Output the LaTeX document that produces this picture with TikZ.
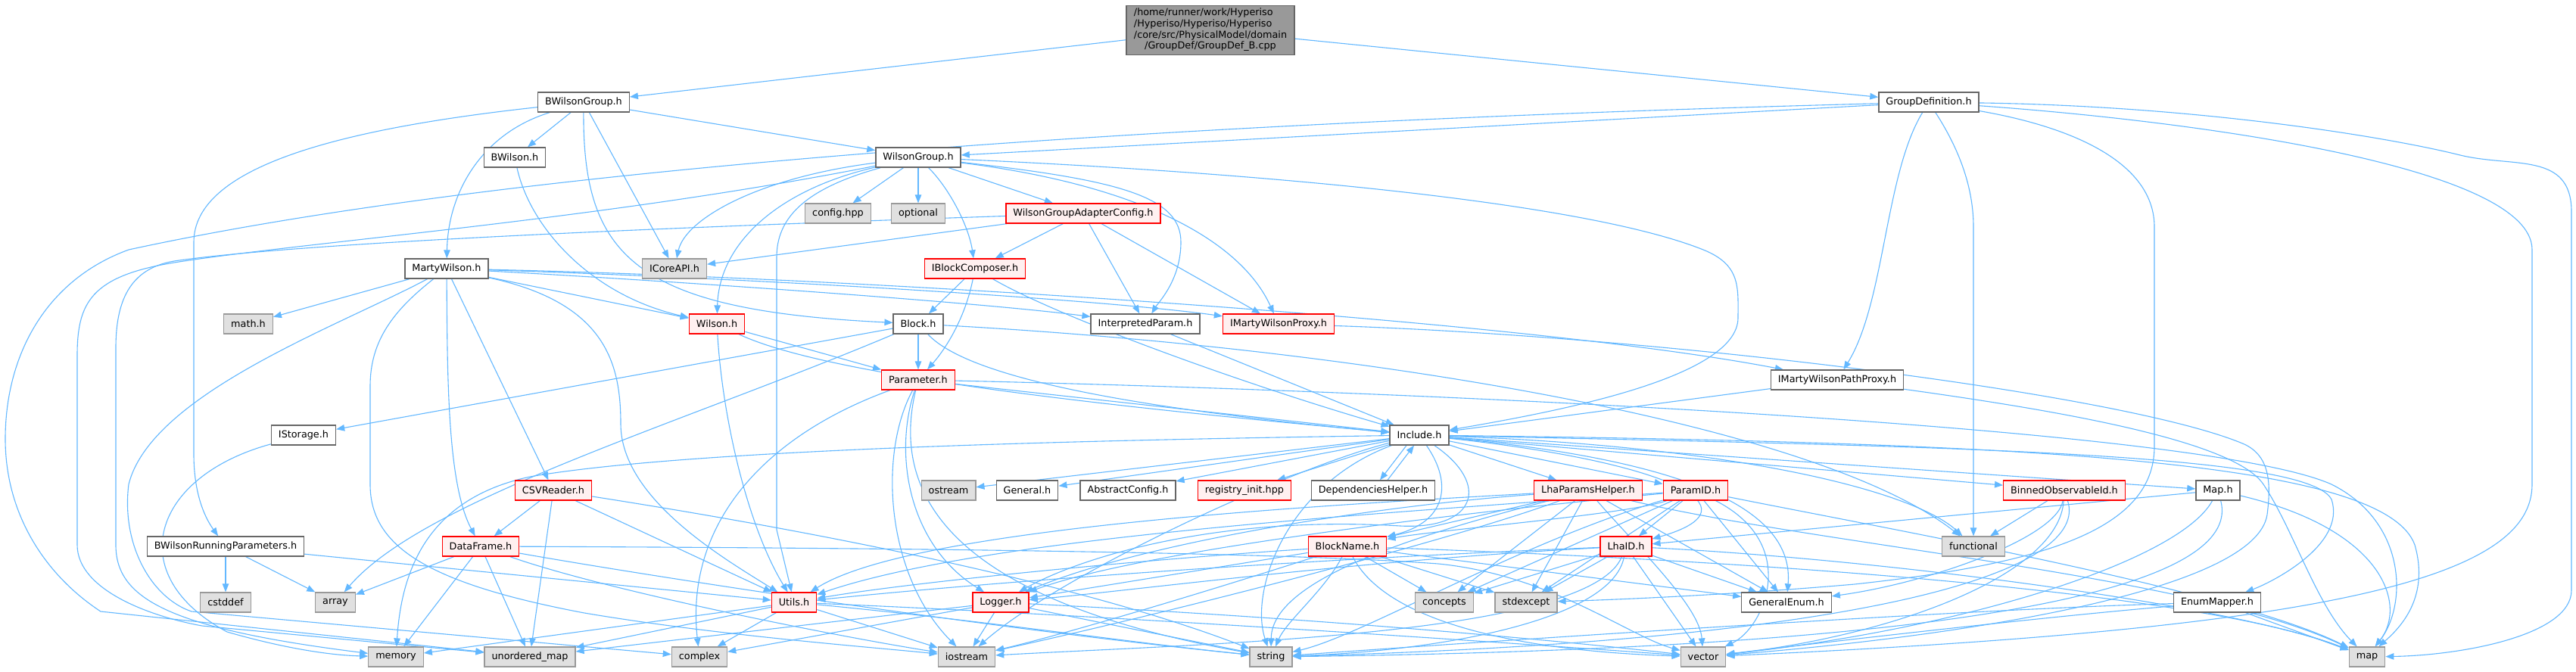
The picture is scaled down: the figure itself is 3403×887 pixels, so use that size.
\documentclass[tikz,border=0pt]{standalone}
\usepackage{fontspec}
\setmainfont{DejaVu Sans}
\usetikzlibrary{arrows.meta,backgrounds}
\definecolor{ec}{HTML}{63B8FF}
\definecolor{gfill}{HTML}{E0E0E0}
\definecolor{rfill}{HTML}{FFF0F0}
\definecolor{mfill}{HTML}{999999}
\definecolor{wbord}{HTML}{666666}
\definecolor{gbord}{HTML}{999999}
\newcommand{\nf}{\fontsize{12.8pt}{14.7pt}\selectfont}
\tikzset{
  nb/.style={draw=wbord, fill=white, line width=1.3pt, minimum height=26pt, inner xsep=9.5pt, inner ysep=0pt, font=\nf},
  wbox/.style={nb},
  gbox/.style={nb, draw=gbord, fill=gfill},
  rbox/.style={nb, draw=red, fill=rfill},
  mbox/.style={nb, fill=mfill, draw=wbord, inner ysep=3pt, inner xsep=10pt},
  e/.style={draw=ec, line width=1.1pt, -{Triangle[length=11pt,width=8.5pt]}},
}
\begin{document}
\begin{tikzpicture}[x=1pt,y=-1pt]
\path[use as bounding box] (0,0) rectangle (3403,887);
% ---------- nodes ----------
\node[mbox] (main) at (1599,40) {\begin{tabular}{@{}l@{}}/home/runner/work/Hyperiso\\/Hyperiso/Hyperiso/Hyperiso\\/core/src/PhysicalModel/domain\\\multicolumn{1}{@{}c@{}}{/GroupDef/GroupDef\_B.cpp}\end{tabular}};
\node[wbox] (bwg) at (771,135) {BWilsonGroup.h};
\node[wbox] (gd) at (2548,135) {GroupDefinition.h};
\node[wbox] (bw) at (680,208) {BWilson.h};
\node[wbox] (wg) at (1213,208) {WilsonGroup.h};
\node[gbox] (cfg) at (1107,282) {config.hpp};
\node[gbox] (opt) at (1213,282) {optional};
\node[rbox] (wgac) at (1431,282) {WilsonGroupAdapterConfig.h};
\node[wbox] (mw) at (590,355) {MartyWilson.h};
\node[gbox] (icore) at (891,355) {ICoreAPI.h};
\node[rbox] (ibc) at (1288,355) {IBlockComposer.h};
\node[gbox] (mathh) at (328,428) {math.h};
\node[rbox] (wil) at (947,428) {Wilson.h};
\node[wbox] (blk) at (1213,428) {Block.h};
\node[wbox] (ip) at (1513,428) {InterpretedParam.h};
\node[rbox] (imwp) at (1689,428) {IMartyWilsonProxy.h};
\node[rbox] (par) at (1213,502) {Parameter.h};
\node[wbox] (imwpp) at (2427,502) {IMartyWilsonPathProxy.h};
\node[wbox] (ist) at (401,575) {IStorage.h};
\node[wbox] (inc) at (1875,575) {Include.h};
\node[rbox] (csv) at (731,648) {CSVReader.h};
\node[gbox] (ostr) at (1253,648) {ostream};
\node[wbox] (gen) at (1357,648) {General.h};
\node[wbox] (absc) at (1490,648) {AbstractConfig.h};
\node[rbox] (reg) at (1644,648) {registry\_init.hpp};
\node[wbox] (dep) at (1814,648) {DependenciesHelper.h};
\node[rbox] (lph) at (2098,648) {LhaParamsHelper.h};
\node[rbox] (pid) at (2240,648) {ParamID.h};
\node[rbox] (bno) at (2727,648) {BinnedObservableId.h};
\node[wbox] (maph) at (2930,648) {Map.h};
\node[wbox] (bwrp) at (298,722) {BWilsonRunningParameters.h};
\node[rbox] (df) at (635,722) {DataFrame.h};
\node[rbox] (bn) at (1780,722) {BlockName.h};
\node[rbox] (lid) at (2148,722) {LhaID.h};
\node[gbox] (func) at (2607,722) {functional};
\node[gbox] (cstd) at (298,796) {cstddef};
\node[gbox] (arr) at (443,796) {array};
\node[rbox] (utl) at (1049,796) {Utils.h};
\node[rbox] (lgr) at (1322,796) {Logger.h};
\node[gbox] (conc) at (1908,796) {concepts};
\node[gbox] (stde) at (2016,796) {stdexcept};
\node[wbox] (genum) at (2360,796) {GeneralEnum.h};
\node[wbox] (enm) at (2929,796) {EnumMapper.h};
\node[gbox] (mem) at (523,868) {memory};
\node[gbox] (um) at (700,868) {unordered\_map};
\node[gbox] (cplx) at (924,868) {complex};
\node[gbox] (ios) at (1277,868) {iostream};
\node[gbox] (str) at (1679,868) {string};
\node[gbox] (vec) at (2250,868) {vector};
\node[gbox] (mapx) at (3127,868) {map};
% ---------- edges ----------
\begin{scope}[on background layer]
\fill[white] (0,0) rectangle (3403,887);
% main
\draw[e] (main) -- (bwg);
\draw[e] (main) -- (gd);
% BWilsonGroup
\draw[e] (bwg) -- (bw);
\draw[e] (bwg) .. controls (640,175) and (592,250) .. (mw);
\draw[e] (bwg) -- (icore);
\draw[e] (bwg) -- (wg);
\draw[e] (bwg) .. controls (450,170) and (256,220) .. (256,320) -- (256,600) .. controls (256,660) and (275,690) .. (bwrp);
\draw[e] (bwg) .. controls (770,340) and (840,410) .. (blk);
% GroupDefinition
\draw[e] (gd) -- (wg);
\draw[e] (gd) .. controls (1600,160) and (700,215) .. (170,330) .. controls (60,370) and (7,470) .. (7,580) .. controls (7,680) and (60,760) .. (133,808) -- (um);
\draw[e] (gd) .. controls (2490,230) and (2490,400) .. (imwpp);
\draw[e] (gd) .. controls (2590,200) and (2607,250) .. (2607,300) -- (func);
\draw[e] (gd) .. controls (2750,170) and (2846,220) .. (2846,300) -- (2846,590) .. controls (2846,700) and (2700,745) .. (2450,772) .. controls (2300,785) and (2150,792) .. (stde);
\draw[e] (gd) .. controls (2900,160) and (3345,220) .. (3345,330) -- (3345,640) .. controls (3345,760) and (3100,830) .. (vec);
\draw[e] (gd) .. controls (2900,140) and (3150,180) .. (3250,205) .. controls (3320,222) and (3397,200) .. (3397,280) -- (3397,780) .. controls (3397,840) and (3250,866) .. (mapx);
% BWilson
\draw[e] (bw) .. controls (700,300) and (780,390) .. (wil);
% WilsonGroup
\draw[e] (wg) -- (cfg);
\draw[e] (wg) -- (opt);
\draw[e] (wg) -- (wgac);
\draw[e] (wg) .. controls (1255,250) and (1280,300) .. (ibc);
\draw[e] (wg) .. controls (1000,235) and (905,290) .. (icore);
\draw[e] (wg) .. controls (1030,250) and (950,320) .. (wil);
\draw[e] (wg) .. controls (1060,250) and (1026,290) .. (1026,340) -- (1026,700) -- (utl);
\draw[e] (wg) .. controls (800,290) and (400,320) .. (230,347) .. controls (120,365) and (102,400) .. (102,470) -- (102,720) .. controls (102,780) and (200,815) .. (267,827) -- (um);
\draw[e] (wg) .. controls (1480,238) and (1560,260) .. (1560,320) .. controls (1560,370) and (1530,400) .. (ip);
\draw[e] (wg) .. controls (1510,245) and (1640,320) .. (imwp);
\draw[e] (wg) .. controls (1700,230) and (2100,270) .. (2250,330) .. controls (2300,350) and (2296,380) .. (2296,420) .. controls (2296,500) and (2050,545) .. (inc);
% WilsonGroupAdapterConfig
\draw[e] (wgac) -- (icore);
\draw[e] (wgac) -- (ibc);
\draw[e] (wgac) -- (ip);
\draw[e] (wgac) -- (imwp);
\draw[e] (wgac) .. controls (900,300) and (400,320) .. (230,345) .. controls (170,355) and (153,400) .. (153,460) -- (153,720) .. controls (153,790) and (220,830) .. (mem);
% MartyWilson
\draw[e] (mw) -- (mathh);
\draw[e] (mw) -- (wil);
\draw[e] (mw) .. controls (900,372) and (1300,400) .. (ip);
\draw[e] (mw) .. controls (1000,368) and (1450,395) .. (imwp);
\draw[e] (mw) .. controls (1100,366) and (2000,420) .. (imwpp);
\draw[e] (mw) -- (csv);
\draw[e] (mw) .. controls (591,500) and (591,640) .. (df);
\draw[e] (mw) .. controls (800,400) and (820,480) .. (820,560) .. controls (820,660) and (960,740) .. (utl);
\draw[e] (mw) .. controls (450,430) and (200,520) .. (170,640) .. controls (160,720) and (200,790) .. (253,808) -- (cplx);
\draw[e] (mw) .. controls (520,410) and (489,450) .. (489,510) -- (489,640) .. controls (489,720) and (560,770) .. (772,810) .. controls (950,840) and (1150,855) .. (ios);
% IBlockComposer
\draw[e] (ibc) -- (blk);
\draw[e] (ibc) .. controls (1275,420) and (1250,460) .. (par);
\draw[e] (ibc) .. controls (1400,420) and (1650,510) .. (inc);
% Wilson
\draw[e] (wil) -- (par);
\draw[e] (wil) .. controls (955,560) and (990,700) .. (utl);
\draw[e] (wil) .. controls (1100,500) and (1500,540) .. (inc);
% Block
\draw[e] (blk) -- (par);
\draw[e] (blk) -- (ist);
\draw[e] (blk) .. controls (900,560) and (560,660) .. (arr);
\draw[e] (blk) .. controls (1280,500) and (1500,540) .. (inc);
\draw[e] (blk) .. controls (1800,460) and (2400,560) .. (func);
% InterpretedParam
\draw[e] (ip) -- (inc);
% IMartyWilsonProxy
\draw[e] (imwp) .. controls (2200,445) and (2800,520) .. (2960,585) .. controls (3000,600) and (3000,640) .. (2995,680) .. controls (2980,780) and (2600,840) .. (vec);
% IMartyWilsonPathProxy
\draw[e] (imwpp) -- (inc);
\draw[e] (imwpp) .. controls (2700,540) and (2950,580) .. (2990,640) .. controls (3030,700) and (3060,800) .. (mapx);
% Parameter
\draw[e] (par) -- (inc);
\draw[e] (par) .. controls (1800,515) and (2900,560) .. (3080,640) .. controls (3180,690) and (3180,800) .. (mapx);
\draw[e] (par) .. controls (1180,600) and (1200,720) .. (lgr);
\draw[e] (par) .. controls (1160,600) and (1170,760) .. (ios);
\draw[e] (par) .. controls (1170,680) and (1300,800) .. (str);
\draw[e] (par) .. controls (1000,580) and (905,700) .. (cplx);
% IStorage
\draw[e] (ist) .. controls (200,630) and (160,760) .. (300,835) .. controls (380,858) and (440,866) .. (mem);
% Include
\draw[e] (inc) -- (ostr);
\draw[e] (inc) -- (gen);
\draw[e] (inc) -- (absc);
\draw[e] (inc) -- (reg);
\draw[e] ([xshift=-17pt]inc.south) -- ([xshift=9pt]dep.north);
\draw[e] ([xshift=19pt]dep.north) -- ([xshift=-7pt]inc.south);
\draw[e] (inc) -- (lph);
\draw[e] (inc) -- (pid);
\draw[e] (inc) .. controls (1920,640) and (1910,690) .. (bn);
\draw[e] (inc) .. controls (1970,640) and (1950,700) .. (1850,695) .. controls (1600,680) and (1420,740) .. (lgr);
\draw[e] (inc) .. controls (1400,582) and (900,595) .. (700,630) .. controls (560,660) and (530,760) .. (mem);
\draw[e] (inc) .. controls (1700,620) and (1400,760) .. (ios);
\draw[e] (inc) .. controls (1700,640) and (1650,780) .. (str);
\draw[e] (inc) .. controls (2200,610) and (2330,670) .. (lid);
\draw[e] (inc) .. controls (2250,610) and (2370,680) .. (genum);
\draw[e] (inc) .. controls (2300,590) and (2530,650) .. (func);
\draw[e] (inc) -- (bno);
\draw[e] (inc) -- (maph);
\draw[e] (inc) .. controls (2600,590) and (3050,600) .. (3080,660) .. controls (3100,720) and (3000,770) .. (enm);
\draw[e] (inc) .. controls (2700,585) and (3150,610) .. (3190,720) .. controls (3210,790) and (3170,830) .. (mapx);
% LhaParamsHelper
\draw[e] (lph) -- (bn);
\draw[e] (lph) -- (conc);
\draw[e] (lph) -- (stde);
\draw[e] (lph) -- (genum);
\draw[e] (lph) .. controls (2160,720) and (2245,800) .. (vec);
\draw[e] (lph) .. controls (1700,670) and (1200,700) .. (utl);
\draw[e] (lph) .. controls (1800,670) and (1500,720) .. (lgr);
\draw[e] (lph) .. controls (1900,700) and (1680,760) .. (str);
\draw[e] (lph) .. controls (1900,720) and (1500,820) .. (ios);
\draw[e] (lph) .. controls (2400,720) and (2900,760) .. (mapx);
% ParamID
\draw[e] (pid) -- (lid);
\draw[e] (pid) -- (conc);
\draw[e] (pid) -- (stde);
\draw[e] (pid) -- (genum);
\draw[e] (pid) .. controls (2380,720) and (2330,830) .. (vec);
\draw[e] (pid) .. controls (2150,680) and (1900,700) .. (bn);
\draw[e] (pid) .. controls (1800,680) and (1300,710) .. (utl);
\draw[e] (pid) .. controls (1900,680) and (1500,730) .. (lgr);
\draw[e] (pid) .. controls (2000,720) and (1800,840) .. (str);
\draw[e] (pid) .. controls (2500,700) and (2950,780) .. (mapx);
% BlockName
\draw[e] (bn) -- (conc);
\draw[e] (bn) -- (stde);
\draw[e] (bn) -- (genum);
\draw[e] (bn) .. controls (1750,780) and (1700,820) .. (str);
\draw[e] (bn) .. controls (1830,820) and (2000,860) .. (vec);
\draw[e] (bn) .. controls (1500,740) and (1200,770) .. (utl);
\draw[e] (bn) -- (lgr);
\draw[e] (bn) .. controls (1600,780) and (1400,840) .. (ios);
\draw[e] (bn) .. controls (2300,740) and (2900,780) .. (mapx);
% LhaID
\draw[e] (lid) -- (conc);
\draw[e] (lid) -- (stde);
\draw[e] (lid) -- (genum);
\draw[e] (lid) -- (vec);
\draw[e] (lid) .. controls (2130,820) and (1900,860) .. (str);
\draw[e] (lid) .. controls (1700,740) and (1300,770) .. (utl);
\draw[e] (lid) .. controls (1800,740) and (1500,780) .. (lgr);
\draw[e] (lid) .. controls (2100,840) and (1600,850) .. (ios);
\draw[e] (lid) .. controls (2500,740) and (2950,800) .. (mapx);
% BinnedObservableId
\draw[e] (bno) -- (func);
\draw[e] (bno) .. controls (2718,710) and (2550,770) .. (genum);
\draw[e] (bno) .. controls (2720,760) and (2500,840) .. (vec);
\draw[e] (bno) .. controls (2760,750) and (2500,845) .. (str);
% Map.h
\draw[e] (maph) -- (lid);
\draw[e] (maph) .. controls (2880,740) and (2600,830) .. (vec);
\draw[e] (maph) .. controls (2960,760) and (2700,855) .. (str);
\draw[e] (maph) .. controls (3150,700) and (3180,800) .. (mapx);
% EnumMapper
\draw[e] (enm) -- (mapx);
\draw[e] (enm) .. controls (2600,805) and (2000,845) .. (str);
\draw[e] (enm) .. controls (2700,815) and (2400,850) .. (vec);
% Utils
\draw[e] (utl) -- (mem);
\draw[e] (utl) -- (um);
\draw[e] (utl) -- (cplx);
\draw[e] (utl) -- (ios);
\draw[e] (utl) .. controls (1300,820) and (1500,850) .. (str);
\draw[e] (utl) .. controls (1500,815) and (2000,850) .. (vec);
% Logger
\draw[e] (lgr) -- (cplx);
\draw[e] (lgr) -- (ios);
\draw[e] (lgr) -- (str);
\draw[e] (lgr) .. controls (1700,815) and (2000,840) .. (vec);
\draw[e] (lgr) -- (um);
% DataFrame
\draw[e] (df) -- (arr);
\draw[e] (df) -- (mem);
\draw[e] (df) -- (um);
\draw[e] (df) .. controls (800,780) and (1100,840) .. (ios);
\draw[e] (df) .. controls (850,760) and (1300,830) .. (str);
\draw[e] (df) .. controls (1200,724) and (1700,730) .. (1900,745) .. controls (2050,760) and (2150,840) .. (vec);
% CSVReader
\draw[e] (csv) -- (df);
\draw[e] (csv) -- (um);
\draw[e] (csv) -- (utl);
\draw[e] (csv) .. controls (1000,690) and (1400,760) .. (str);
% BWilsonRunningParameters
\draw[e] (bwrp) -- (cstd);
\draw[e] (bwrp) -- (arr);
\draw[e] (bwrp) -- (utl);
\end{scope}
\end{tikzpicture}
\end{document}
